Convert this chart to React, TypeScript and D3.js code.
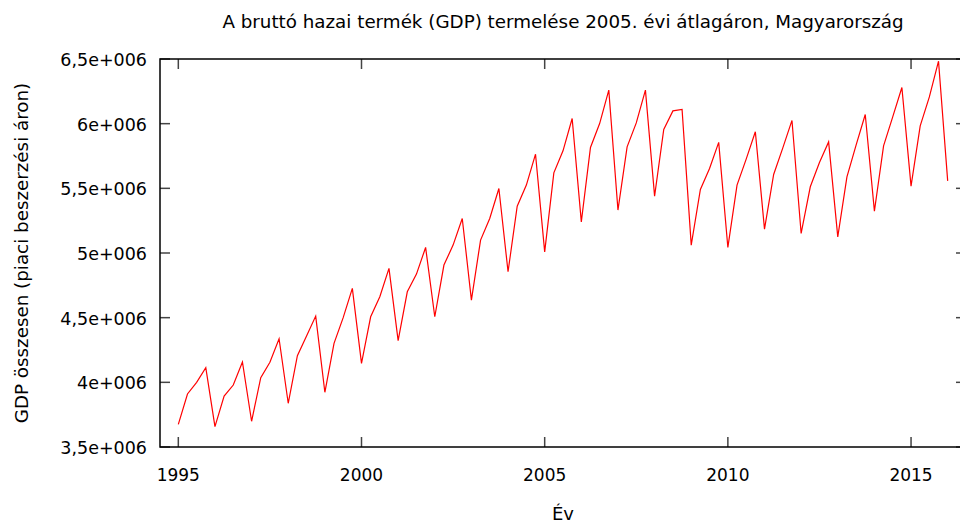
import React, { useEffect, useRef } from "react";
import * as d3 from "d3";

// quarterly GDP, 1995 Q1 .. 2016 Q1 (million HUF at 2005 prices)
const years = d3.range(1995, 2016).concat([2016]);
const quarters = [0, 0.25, 0.5, 0.75];

const gdp = [
  3.675e6, 3.91e6, 4.0e6, 4.113e6,
  3.657e6, 3.894e6, 3.979e6, 4.157e6,
  3.699e6, 4.036e6, 4.155e6, 4.337e6,
  3.838e6, 4.206e6, 4.358e6, 4.512e6,
  3.923e6, 4.301e6, 4.5e6, 4.726e6,
  4.147e6, 4.507e6, 4.662e6, 4.881e6,
  4.322e6, 4.7e6, 4.837e6, 5.043e6,
  4.507e6, 4.907e6, 5.061e6, 5.267e6,
  4.636e6, 5.1e6, 5.267e6, 5.499e6,
  4.855e6, 5.362e6, 5.525e6, 5.764e6,
  5.009e6, 5.62e6, 5.79e6, 6.04e6,
  5.241e6, 5.816e6, 6.001e6, 6.259e6,
  5.332e6, 5.821e6, 6.006e6, 6.259e6,
  5.44e6, 5.955e6, 6.099e6, 6.11e6,
  5.061e6, 5.491e6, 5.654e6, 5.855e6,
  5.043e6, 5.525e6, 5.726e6, 5.937e6,
  5.185e6, 5.607e6, 5.813e6, 6.025e6,
  5.151e6, 5.512e6, 5.7e6, 5.859e6,
  5.125e6, 5.589e6, 5.834e6, 6.071e6,
  5.324e6, 5.828e6, 6.053e6, 6.28e6,
  5.517e6, 5.983e6, 6.207e6, 6.483e6,
  5.558e6,
];

const xTicks = [1995, 2000, 2005, 2010, 2015];
const yTicks = [3.5e6, 4e6, 4.5e6, 5e6, 5.5e6, 6e6, 6.5e6];

const title = "A bruttó hazai termék (GDP) termelése 2005. évi átlagáron, Magyarország";
const xLabel = "Év";
const yLabel = "GDP összesen (piaci beszerzési áron)";

const W = 960;
const H = 526;
const m = { left: 160, right: 966, top: 59, bottom: 447 };
const font = "'DejaVu Sans', Verdana, sans-serif";

function fmtY(v: number) {
  return String(v / 1e6).replace(".", ",") + "e+006";
}

export default function App() {
  const ref = useRef<SVGSVGElement>(null);

  useEffect(() => {
    const svg = d3.select(ref.current);
    svg.selectAll("*").remove();

    const times: number[] = [];
    years.forEach((y) => quarters.forEach((q) => times.push(y + q)));
    const data = gdp.map((v, i) => [times[i], v] as [number, number]);

    const x = d3.scaleLinear().domain([1994.5, 2016.5]).range([m.left, m.right]);
    const y = d3.scaleLinear().domain([3.5e6, 6.5e6]).range([m.bottom, m.top]);

    const tickLen = 10;
    const g = svg.append("g");

    // ticks on all four sides, pointing in
    xTicks.forEach((t) => {
      g.append("line").attr("x1", x(t)).attr("x2", x(t))
        .attr("y1", m.bottom).attr("y2", m.bottom - tickLen)
        .attr("stroke", "#444").attr("stroke-width", 1.5);
      g.append("line").attr("x1", x(t)).attr("x2", x(t))
        .attr("y1", m.top).attr("y2", m.top + tickLen)
        .attr("stroke", "#444").attr("stroke-width", 1.5);
      g.append("text").attr("x", x(t)).attr("y", 481)
        .attr("text-anchor", "middle").attr("font-family", font)
        .attr("font-size", 17).attr("fill", "#000").text(t);
    });
    yTicks.forEach((t) => {
      g.append("line").attr("x1", m.left).attr("x2", m.left + tickLen)
        .attr("y1", y(t)).attr("y2", y(t))
        .attr("stroke", "#444").attr("stroke-width", 1.5);
      g.append("line").attr("x1", m.right).attr("x2", m.right - tickLen)
        .attr("y1", y(t)).attr("y2", y(t))
        .attr("stroke", "#444").attr("stroke-width", 1.5);
      g.append("text").attr("x", 147).attr("y", y(t) + 7)
        .attr("text-anchor", "end").attr("font-family", font)
        .attr("font-size", 17.5).attr("fill", "#000").text(fmtY(t));
    });

    const line = d3.line<[number, number]>()
      .x((d) => x(d[0]))
      .y((d) => y(d[1]));

    g.append("path")
      .datum(data)
      .attr("fill", "none")
      .attr("stroke", "#ff0000")
      .attr("stroke-width", 1.2)
      .attr("stroke-linejoin", "miter")
      .attr("d", line);

    g.append("rect")
      .attr("x", m.left).attr("y", m.top)
      .attr("width", m.right - m.left).attr("height", m.bottom - m.top)
      .attr("fill", "none").attr("stroke", "#000").attr("stroke-width", 1.5);

    const cx = (m.left + m.right) / 2;
    svg.append("text").attr("x", cx).attr("y", 28)
      .attr("text-anchor", "middle").attr("font-family", font)
      .attr("font-size", 18.3).attr("fill", "#000").text(title);
    svg.append("text").attr("x", cx).attr("y", 520)
      .attr("text-anchor", "middle").attr("font-family", font)
      .attr("font-size", 18).attr("fill", "#000").text(xLabel);
    svg.append("text")
      .attr("transform", `translate(28, ${(m.top + m.bottom) / 2}) rotate(-90)`)
      .attr("text-anchor", "middle").attr("font-family", font)
      .attr("font-size", 18.3).attr("fill", "#000").text(yLabel);
  }, []);

  return (
    <svg
      ref={ref}
      width={W}
      height={H}
      viewBox={`0 0 ${W} ${H}`}
      style={{ position: "absolute", left: 0, top: 0, background: "#fff", display: "block" }}
    />
  );
}
